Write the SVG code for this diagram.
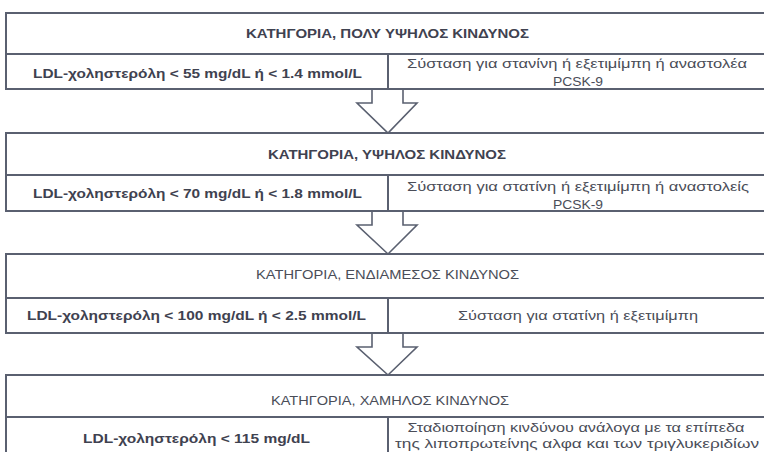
<svg xmlns="http://www.w3.org/2000/svg" width="764" height="452" viewBox="0 0 764 452">
<style>
.box{fill:#fff;stroke:#5a6070;stroke-width:2}
.ln{stroke:#5a6070;stroke-width:2;fill:none}
.t{font-family:"Liberation Sans",Arial,sans-serif;font-size:13.5px;fill:#4a4d58;text-anchor:middle}
.b{font-weight:bold;fill:#3f4250}
.arr{fill:#fff;stroke:#5a6070;stroke-width:1.6;stroke-linejoin:miter}
</style>
<rect width="764" height="452" fill="#fff"/>
<g id="connectors">
<path class="arr" d="M372,89 V103 H357 L388,133 L417,103 H403 V89"/>
<path class="arr" d="M372,211 V225 H357 L388,254 L417,225 H403 V211"/>
<path class="arr" d="M372,333 V347 H357 L388,375 L417,347 H403 V333"/>
</g>
<g id="very-high">
<rect class="box" x="6" y="13" width="770" height="76"/>
<line class="ln" x1="6" y1="54" x2="776" y2="54"/>
<line class="ln" x1="388" y1="54" x2="388" y2="89"/>
<text class="t b" x="387.5" y="38" textLength="283" lengthAdjust="spacingAndGlyphs">ΚΑΤΗΓΟΡΙΑ, ΠΟΛΥ ΥΨΗΛΟΣ ΚΙΝΔΥΝΟΣ</text>
<text class="t b" x="197.5" y="78" textLength="329" lengthAdjust="spacingAndGlyphs">LDL-χοληστερόλη &lt; 55 mg/dL ή &lt; 1.4 mmol/L</text>
<text class="t" x="577" y="68" textLength="340" lengthAdjust="spacingAndGlyphs">Σύσταση για στανίνη ή εξετιμίμπη ή αναστολέα</text>
<text class="t" x="578" y="86" textLength="50" lengthAdjust="spacingAndGlyphs">PCSK-9</text>
</g>
<g id="high">
<rect class="box" x="6" y="133" width="770" height="78"/>
<line class="ln" x1="6" y1="175" x2="776" y2="175"/>
<line class="ln" x1="388" y1="175" x2="388" y2="211"/>
<text class="t b" x="387" y="159" textLength="238" lengthAdjust="spacingAndGlyphs">ΚΑΤΗΓΟΡΙΑ, ΥΨΗΛΟΣ ΚΙΝΔΥΝΟΣ</text>
<text class="t b" x="197.5" y="198" textLength="329" lengthAdjust="spacingAndGlyphs">LDL-χοληστερόλη &lt; 70 mg/dL ή &lt; 1.8 mmol/L</text>
<text class="t" x="578" y="191" textLength="342" lengthAdjust="spacingAndGlyphs">Σύσταση για στατίνη ή εξετιμίμπη ή αναστολείς</text>
<text class="t" x="578" y="209" textLength="50" lengthAdjust="spacingAndGlyphs">PCSK-9</text>
</g>
<g id="intermediate">
<rect class="box" x="6" y="254" width="770" height="79"/>
<line class="ln" x1="6" y1="298" x2="776" y2="298"/>
<line class="ln" x1="388" y1="298" x2="388" y2="333"/>
<text class="t" x="387.5" y="279" textLength="263" lengthAdjust="spacingAndGlyphs">ΚΑΤΗΓΟΡΙΑ, ΕΝΔΙΑΜΕΣΟΣ ΚΙΝΔΥΝΟΣ</text>
<text class="t b" x="196.5" y="320" textLength="339" lengthAdjust="spacingAndGlyphs">LDL-χοληστερόλη &lt; 100 mg/dL ή &lt; 2.5 mmol/L</text>
<text class="t" x="578" y="320" textLength="240" lengthAdjust="spacingAndGlyphs">Σύσταση για στατίνη ή εξετιμίμπη</text>
</g>
<g id="low">
<rect class="box" x="6" y="375" width="770" height="90"/>
<line class="ln" x1="6" y1="417" x2="776" y2="417"/>
<line class="ln" x1="388" y1="417" x2="388" y2="465"/>
<text class="t" x="390" y="405" textLength="238" lengthAdjust="spacingAndGlyphs">ΚΑΤΗΓΟΡΙΑ, ΧΑΜΗΛΟΣ ΚΙΝΔΥΝΟΣ</text>
<text class="t b" x="196.5" y="443" textLength="227" lengthAdjust="spacingAndGlyphs">LDL-χοληστερόλη &lt; 115 mg/dL</text>
<text class="t" x="576" y="432" textLength="337" lengthAdjust="spacingAndGlyphs">Σταδιοποίηση κινδύνου ανάλογα με τα επίπεδα</text>
<text class="t" x="577" y="448" textLength="364" lengthAdjust="spacingAndGlyphs">της λιποπρωτείνης αλφα και των τριγλυκεριδίων</text>
</g>
</svg>
